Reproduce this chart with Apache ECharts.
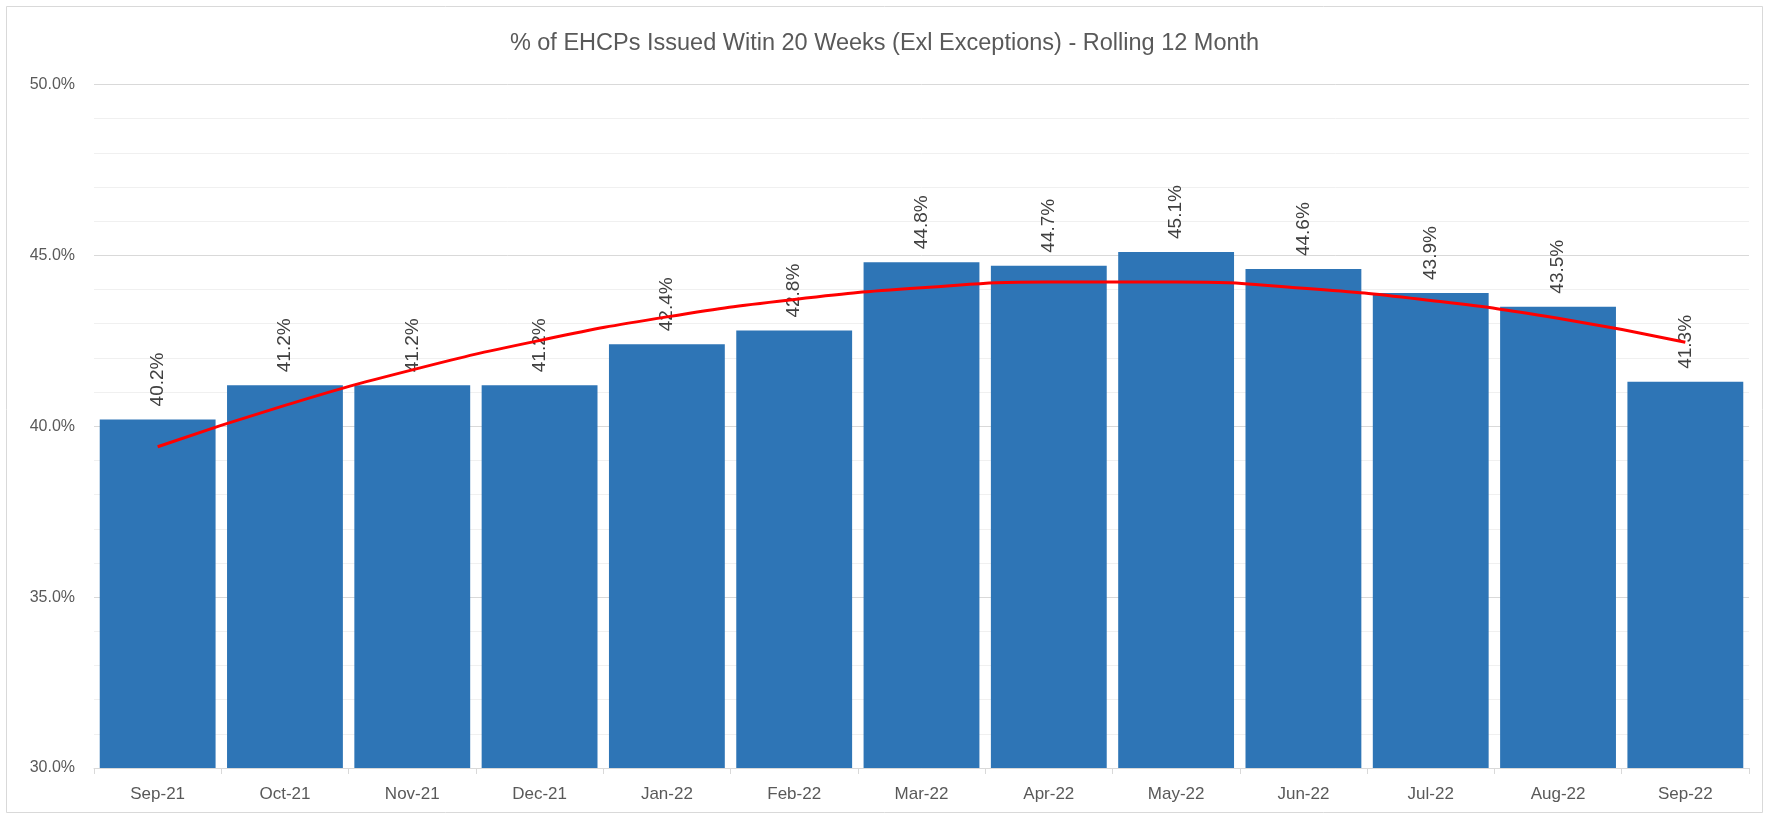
<!DOCTYPE html>
<html>
<head>
<meta charset="utf-8">
<script src="https://cdn.jsdelivr.net/npm/echarts@6/dist/echarts.min.js"></script>
<style>
html,body{margin:0;padding:0;background:#fff;}
#chart{width:1769px;height:819px;}
</style>
</head>
<body>
<div id="chart"></div>
<script>
var categories = ['Sep-21','Oct-21','Nov-21','Dec-21','Jan-22','Feb-22','Mar-22','Apr-22','May-22','Jun-22','Jul-22','Aug-22','Sep-22'];
var pctValues = [40.2, 41.2, 41.2, 41.2, 42.4, 42.8, 44.8, 44.7, 45.1, 44.6, 43.9, 43.5, 41.3];
var trendValues = [39.40, 40.61, 41.65, 42.51, 43.20, 43.71, 44.05, 44.22, 44.22, 44.04, 43.68, 43.16, 42.46];
var titleText = '% of EHCPs Issued Witin 20 Weeks (Exl Exceptions) - Rolling 12 Month';

var font = '"Liberation Sans", "DejaVu Sans", sans-serif';
var chart = echarts.init(document.getElementById('chart'), null, {renderer: 'canvas'});
chart.setOption({
  animation: false,
  backgroundColor: '#ffffff',
  textStyle: {fontFamily: font},
  title: {
    text: titleText,
    left: 'center',
    top: 27,
    textStyle: {fontFamily: font, fontSize: 23.5, fontWeight: 'normal', color: '#595959'}
  },
  graphic: [{
    type: 'rect',
    shape: {x: 6.5, y: 6.5, width: 1756, height: 806},
    style: {fill: 'none', stroke: '#D9D9D9', lineWidth: 1},
    silent: true
  }],
  grid: {left: 94, right: 20, top: 84.5, bottom: 51, containLabel: false},
  xAxis: {
    type: 'category',
    data: categories,
    boundaryGap: true,
    axisLine: {show: true, lineStyle: {color: '#D9D9D9', width: 1}},
    axisTick: {show: true, alignWithLabel: false, length: 6, lineStyle: {color: '#D9D9D9'}},
    axisLabel: {fontFamily: font, fontSize: 17, color: '#595959', margin: 18}
  },
  yAxis: {
    type: 'value',
    min: 30,
    max: 50,
    interval: 5,
    axisLine: {show: false},
    axisTick: {show: false},
    axisLabel: {
      fontFamily: font, fontSize: 16, color: '#595959', margin: 19,
      formatter: function (v) { return v.toFixed(1) + '%'; }
    },
    splitLine: {show: true, lineStyle: {color: '#D9D9D9', width: 1}},
    minorTick: {show: false, splitNumber: 5},
    minorSplitLine: {show: true, lineStyle: {color: '#F0F0F0', width: 1}}
  },
  series: [
    {
      name: 'EHCPs',
      type: 'bar',
      data: pctValues,
      barCategoryGap: '9%',
      itemStyle: {color: '#2E75B6'},
      label: {
        show: true,
        position: 'top',
        rotate: 90,
        align: 'left',
        verticalAlign: 'middle',
        distance: 13,
        fontFamily: font,
        fontSize: 19,
        color: '#404040',
        formatter: function (p) { return p.value.toFixed(1) + '%'; }
      },
      z: 2
    },
    {
      name: 'Trend',
      type: 'line',
      data: trendValues,
      smooth: true,
      symbol: 'none',
      lineStyle: {color: '#FF0000', width: 3},
      z: 3
    }
  ]
});
</script>
</body>
</html>
